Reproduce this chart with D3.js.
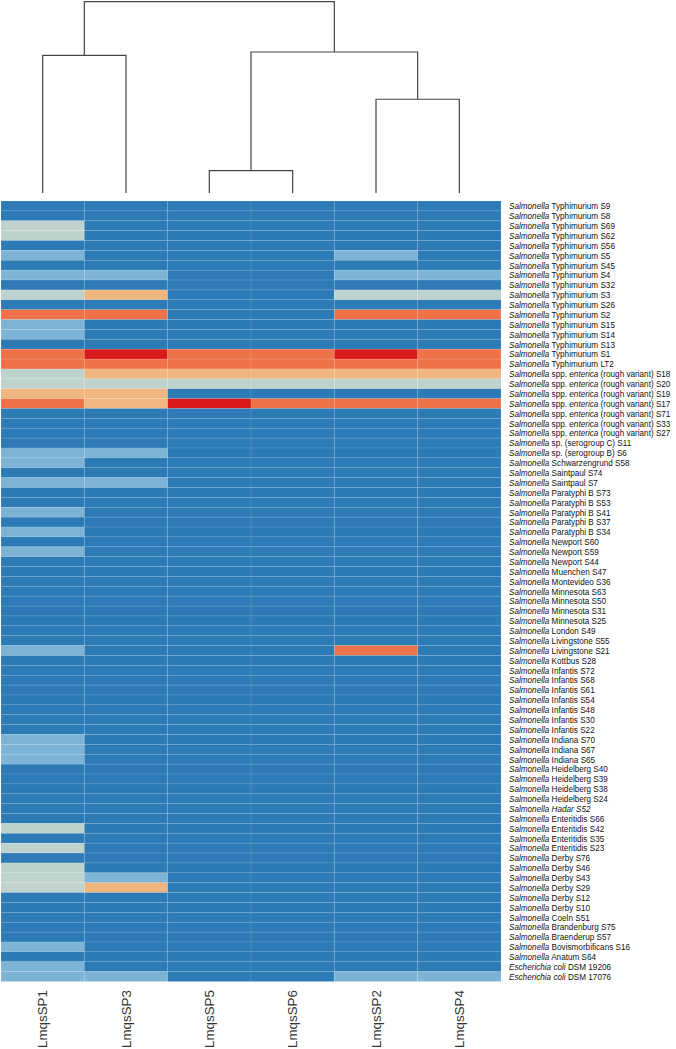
<!DOCTYPE html>
<html>
  <head>
    <meta charset="utf-8">
    <script src="https://d3js.org/d3.v7.min.js"></script>
  </head>
  <body>
    <svg id="heatmap" width="676" height="1049"></svg>
    <script>
      // columns in dendrogram order
      const columns = ['LmqsSP1', 'LmqsSP3', 'LmqsSP5', 'LmqsSP6', 'LmqsSP2', 'LmqsSP4'];

      // row labels, *...* = italic
      const rowLabels = [
        '*Salmonella* Typhimurium S9', '*Salmonella* Typhimurium S8', '*Salmonella* Typhimurium S69',
        '*Salmonella* Typhimurium S62', '*Salmonella* Typhimurium S56', '*Salmonella* Typhimurium S5',
        '*Salmonella* Typhimurium S45', '*Salmonella* Typhimurium S4', '*Salmonella* Typhimurium S32',
        '*Salmonella* Typhimurium S3', '*Salmonella* Typhimurium S26', '*Salmonella* Typhimurium S2',
        '*Salmonella* Typhimurium S15', '*Salmonella* Typhimurium S14', '*Salmonella* Typhimurium S13',
        '*Salmonella* Typhimurium S1', '*Salmonella* Typhimurium LT2',
        '*Salmonella* spp. *enterica* (rough variant) S18', '*Salmonella* spp. *enterica* (rough variant)  S20',
        '*Salmonella* spp. *enterica* (rough variant)  S19', '*Salmonella* spp. *enterica* (rough variant)  S17',
        '*Salmonella* spp. *enterica* (rough variant) S71', '*Salmonella* spp. *enterica* (rough variant) S33',
        '*Salmonella* spp. *enterica* (rough variant) S27',
        '*Salmonella* sp. (serogroup C) S11', '*Salmonella* sp. (serogroup B) S6',
        '*Salmonella* Schwarzengrund S58', '*Salmonella* Saintpaul S74', '*Salmonella* Saintpaul S7',
        '*Salmonella* Paratyphi B S73', '*Salmonella* Paratyphi B S53', '*Salmonella* Paratyphi B S41',
        '*Salmonella* Paratyphi B S37', '*Salmonella* Paratyphi B S34',
        '*Salmonella* Newport S60', '*Salmonella* Newport S59', '*Salmonella* Newport S44',
        '*Salmonella* Muenchen S47', '*Salmonella* Montevideo S36',
        '*Salmonella* Minnesota S63', '*Salmonella* Minnesota S50', '*Salmonella* Minnesota S31',
        '*Salmonella* Minnesota S25', '*Salmonella* London S49',
        '*Salmonella* Livingstone S55', '*Salmonella* Livingstone S21', '*Salmonella* Kottbus S28',
        '*Salmonella* Infantis S72', '*Salmonella* Infantis S68', '*Salmonella* Infantis S61',
        '*Salmonella* Infantis S54', '*Salmonella* Infantis S48', '*Salmonella* Infantis S30',
        '*Salmonella* Infantis S22',
        '*Salmonella* Indiana S70', '*Salmonella* Indiana S67', '*Salmonella* Indiana S65',
        '*Salmonella* Heidelberg S40', '*Salmonella* Heidelberg S39', '*Salmonella* Heidelberg S38',
        '*Salmonella* Heidelberg S24', '*Salmonella Hadar S52*',
        '*Salmonella* Enteritidis S66', '*Salmonella* Enteritidis S42', '*Salmonella* Enteritidis S35',
        '*Salmonella* Enteritidis S23',
        '*Salmonella* Derby S76', '*Salmonella* Derby S46', '*Salmonella* Derby S43',
        '*Salmonella* Derby S29', '*Salmonella* Derby S12', '*Salmonella* Derby S10',
        '*Salmonella* Coeln S51', '*Salmonella* Brandenburg S75', '*Salmonella* Braenderup S57',
        '*Salmonella* Bovismorbificans S16', '*Salmonella* Anatum S64',
        '*Escherichia coli* DSM 19206', '*Escherichia coli* DSM 17076'
      ];

      // one row per strain, values per column (0 = low ... 5 = high)
      const values = [
        [0,0,0,0,0,0], [0,0,0,0,0,0], [2,0,0,0,0,0], [2,0,0,0,0,0], [0,0,0,0,0,0],
        [1,0,0,0,1,0], [0,0,0,0,0,0], [1,1,0,0,1,1], [0,0,0,0,0,0], [2,3,0,0,2,2],
        [0,0,0,0,0,0], [4,4,0,0,4,4], [1,0,0,0,0,0], [1,0,0,0,0,0], [0,0,0,0,0,0],
        [4,5,4,4,5,4], [4,4,4,4,4,4],
        [2,3,3,3,3,3], [2,2,2,2,2,2], [3,3,0,0,0,0], [4,3,5,4,4,4],
        [0,0,0,0,0,0], [0,0,0,0,0,0], [0,0,0,0,0,0],
        [0,0,0,0,0,0], [1,1,0,0,0,0],
        [1,0,0,0,0,0], [0,0,0,0,0,0], [1,1,0,0,0,0],
        [0,0,0,0,0,0], [0,0,0,0,0,0], [1,0,0,0,0,0], [0,0,0,0,0,0], [1,0,0,0,0,0],
        [0,0,0,0,0,0], [1,0,0,0,0,0], [0,0,0,0,0,0],
        [0,0,0,0,0,0], [0,0,0,0,0,0],
        [0,0,0,0,0,0], [0,0,0,0,0,0], [0,0,0,0,0,0], [0,0,0,0,0,0], [0,0,0,0,0,0],
        [0,0,0,0,0,0], [1,0,0,0,4,0], [0,0,0,0,0,0],
        [0,0,0,0,0,0], [0,0,0,0,0,0], [0,0,0,0,0,0], [0,0,0,0,0,0], [0,0,0,0,0,0],
        [0,0,0,0,0,0], [0,0,0,0,0,0],
        [1,0,0,0,0,0], [1,0,0,0,0,0], [1,0,0,0,0,0],
        [0,0,0,0,0,0], [0,0,0,0,0,0], [0,0,0,0,0,0], [0,0,0,0,0,0], [0,0,0,0,0,0],
        [0,0,0,0,0,0], [2,0,0,0,0,0], [0,0,0,0,0,0], [2,0,0,0,0,0],
        [0,0,0,0,0,0], [2,0,0,0,0,0], [2,1,0,0,0,0], [2,3,0,0,0,0], [0,0,0,0,0,0], [0,0,0,0,0,0],
        [0,0,0,0,0,0], [0,0,0,0,0,0], [0,0,0,0,0,0],
        [1,0,0,0,0,0], [0,0,0,0,0,0],
        [1,0,0,0,0,0], [1,1,0,0,1,1]
      ];

      const palette = ['#2c7bb6', '#7db4d6', '#bfd3ce', '#efb77f', '#ee7247', '#d7191c'];

      // column dendrogram, merge heights relative to the root
      const tree = {h: 1, children: [
        {h: 0.719, children: [{name: 'LmqsSP1'}, {name: 'LmqsSP3'}]},
        {h: 0.737, children: [
          {h: 0.117, children: [{name: 'LmqsSP5'}, {name: 'LmqsSP6'}]},
          {h: 0.49, children: [{name: 'LmqsSP2'}, {name: 'LmqsSP4'}]}
        ]}
      ]};

      const svg = d3.select('svg#heatmap');
      const heat = {left: 1, top: 201, width: 500, height: 780.5};

      const xScale = d3.scaleBand().domain(columns).range([heat.left, heat.left + heat.width]);
      const yScale = d3.scaleBand().domain(d3.range(rowLabels.length)).range([heat.top, heat.top + heat.height]);
      const colorScale = d3.scaleOrdinal().domain(d3.range(palette.length)).range(palette);

      // cells
      let cells = svg.append('g');
      values.forEach((row, i) => {
        row.forEach((v, j) => {
          cells.append('rect')
            .attr('x', xScale(columns[j]))
            .attr('y', yScale(i))
            .attr('width', xScale.bandwidth())
            .attr('height', yScale.bandwidth())
            .attr('fill', colorScale(v))
            .attr('stroke', 'rgba(255,255,255,0.12)')
            .attr('stroke-width', 0.8);
        });
      });

      // row labels (condensed a bit like the original)
      const labelX = heat.left + heat.width + 8;
      const squeeze = 0.86;
      let rowG = svg.append('g')
        .attr('transform', `translate(${labelX},0) scale(${squeeze},1)`)
        .style('font-family', '"Liberation Sans", Arial, sans-serif')
        .style('font-size', '9.5px')
        .style('white-space', 'pre')
        .attr('fill', '#111');
      rowLabels.forEach((lab, i) => {
        let t = rowG.append('text')
          .attr('x', 0)
          .attr('y', yScale(i) + yScale.bandwidth() / 2)
          .attr('dy', '0.35em');
        lab.split('*').forEach((part, k) => {
          if (part === '') return;
          t.append('tspan')
            .attr('font-style', k % 2 === 1 ? 'italic' : 'normal')
            .text(part);
        });
      });

      // column labels
      svg.append('g')
        .style('font-family', '"Liberation Sans", Arial, sans-serif')
        .style('font-size', '13.4px')
        .attr('fill', '#333')
        .selectAll('text')
        .data(columns)
        .join('text')
        .attr('transform', d => `translate(${xScale(d) + xScale.bandwidth() / 2 + 4.5}, 990) rotate(-90)`)
        .attr('text-anchor', 'end')
        .text(d => d);

      // dendrogram
      const hScale = d3.scaleLinear().domain([0, 1]).range([193, 1.7]);
      const root = d3.hierarchy(tree);
      root.eachAfter(n => {
        if (!n.children) {
          n.px = xScale(n.data.name) + xScale.bandwidth() / 2;
          n.ph = 0;
        } else {
          n.px = d3.mean(n.children, c => c.px);
          n.ph = n.data.h;
        }
      });
      let dendro = svg.append('g')
        .attr('fill', 'none')
        .attr('stroke', '#444')
        .attr('stroke-width', 1.2);
      root.descendants().filter(n => n.children).forEach(n => {
        const [a, b] = n.children;
        const path = d3.path();
        path.moveTo(a.px, hScale(a.ph));
        path.lineTo(a.px, hScale(n.ph));
        path.lineTo(b.px, hScale(n.ph));
        path.lineTo(b.px, hScale(b.ph));
        dendro.append('path').attr('d', path.toString());
      });
    </script>
  </body>
  <style>
    body { margin: 0; background: #fff; }
    svg { display: block; }
  </style>
</html>
